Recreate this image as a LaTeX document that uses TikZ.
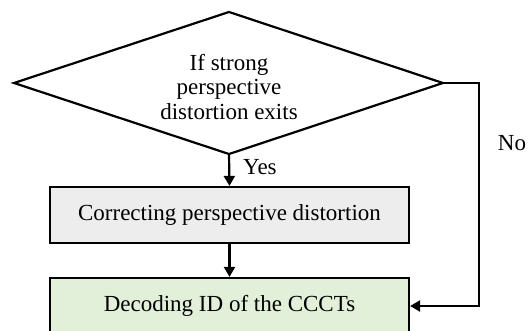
\documentclass[tikz,border=0pt]{standalone}
\usepackage{fontspec}
\setmainfont{Liberation Serif}
\usetikzlibrary{arrows.meta}
\definecolor{boxgray}{HTML}{EDEDED}
\definecolor{boxgreen}{HTML}{E2F0D9}
\begin{document}
\begin{tikzpicture}[x=1pt,y=-1pt,
  every node/.style={font=\fontsize{23}{24.5}\selectfont, inner sep=0pt},
  lbl/.style={align=center},
  outline/.style={draw, line width=2.2pt, line join=miter},
  procbox/.style={draw, line width=2.2pt, rectangle, minimum width=359pt, minimum height=56pt},
  conn/.style={line width=2.2pt, -{Triangle[length=10pt,width=11pt]}}
]
\useasboundingbox (0,0) rectangle (528,331);
\clip (0,0) rectangle (528,331);
\coordinate (dtop) at (229,12);
\coordinate (dleft) at (14,83);
\coordinate (dright) at (443,83);
\coordinate (dbot) at (229,154);
\draw[outline] (dtop) -- (dright) -- (dbot) -- (dleft) -- cycle;
\node[lbl] (d) at (229,87) {If strong\\perspective\\distortion exits};
\node[procbox, fill=boxgray] (c) at (229.5,215) {Correcting perspective distortion};
\node[procbox, fill=boxgreen] (k) at (229.5,306) {Decoding ID of the CCCTs};
\coordinate (r1) at (479,83);
\coordinate (r2) at (479,306);
\draw[conn] (dbot) -- (c.north);
\draw[conn] (c.south) -- (k.north);
\draw[conn] (dright) -- (r1) -- (r2) -- (k.east);
\node[anchor=west] (yes) at (243,167) {Yes};
\node (no) at (512,143) {No};
\end{tikzpicture}
\end{document}
